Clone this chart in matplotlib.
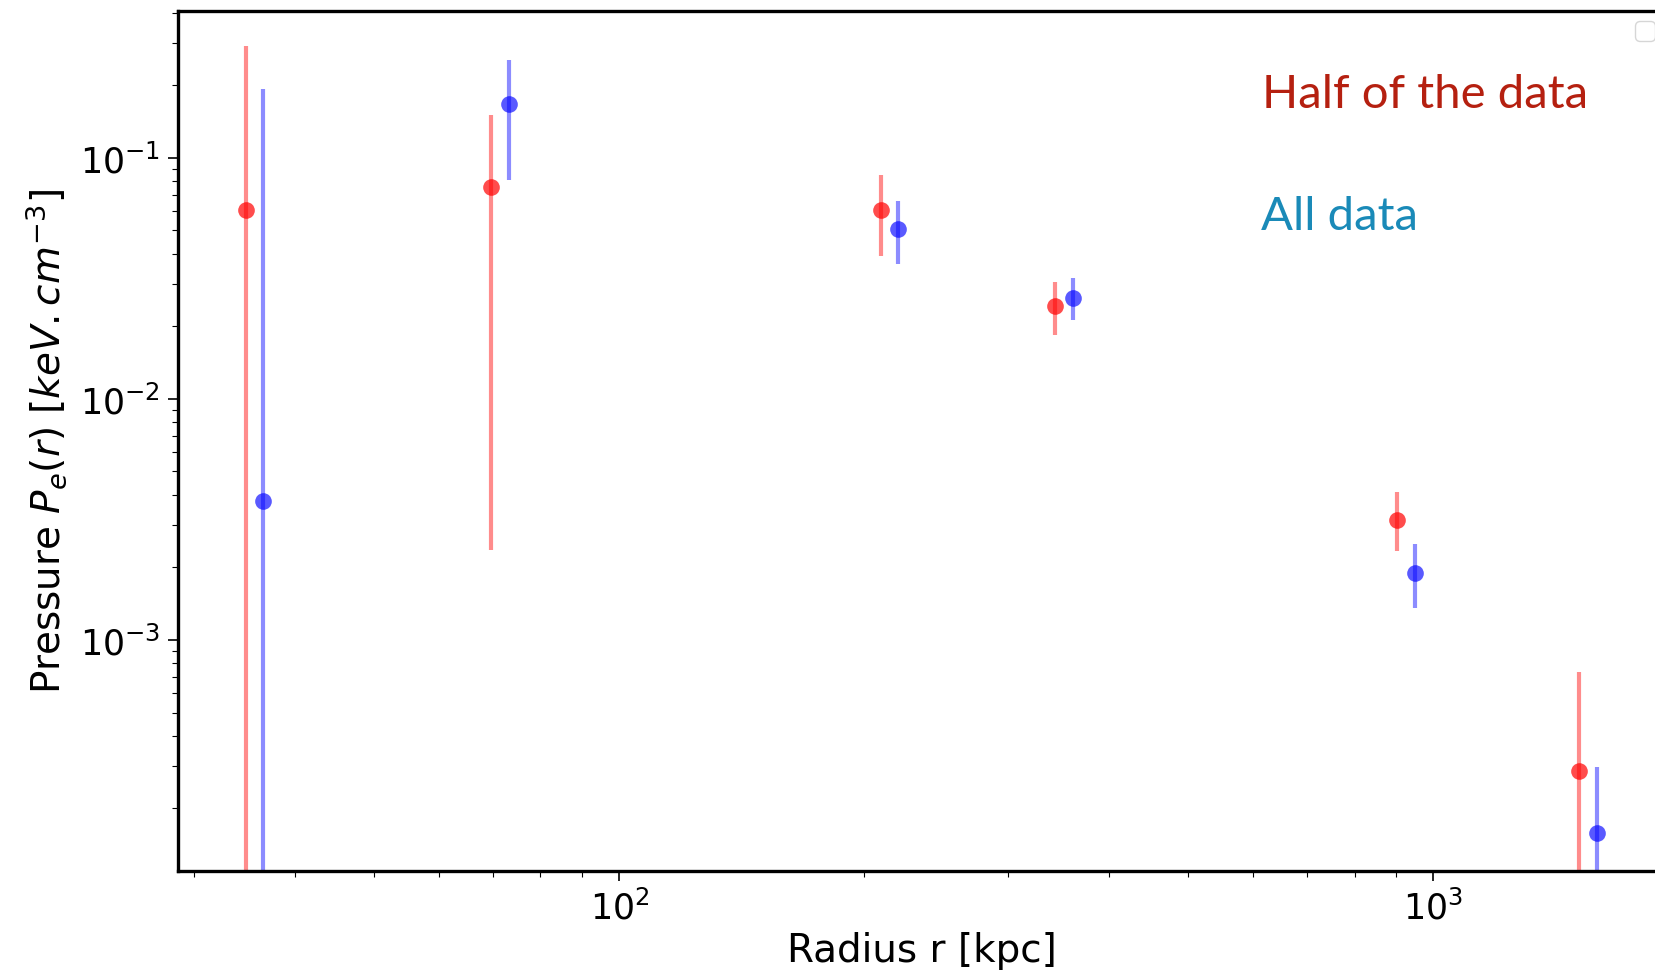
import matplotlib
matplotlib.use("Agg")
import matplotlib.pyplot as plt
import numpy as np

# radial bins [kpc]
r_half = [34.8, 69.5, 209.6, 342.6, 903.0, 1511.0]
r_all = [36.5, 73.1, 219.9, 360.5, 950.0, 1589.0]

# electron pressure [keV cm^-3] with lower / upper bounds
p_half = [0.0608, 0.0758, 0.0608, 0.0243, 0.00315, 0.000286]
p_half_lo = [1e-6, 0.00236, 0.0392, 0.01845, 0.00234, 1e-6]
p_half_hi = [0.290, 0.151, 0.085, 0.0305, 0.00411, 0.000736]

p_all = [0.00378, 0.168, 0.0507, 0.0262, 0.00189, 0.000158]
p_all_lo = [1e-6, 0.081, 0.0363, 0.0213, 0.00136, 1e-6]
p_all_hi = [0.193, 0.255, 0.0664, 0.0318, 0.0025, 0.000297]


def asym_err(val, lo, hi):
    val, lo, hi = np.array(val), np.array(lo), np.array(hi)
    return [val - lo, hi - val]


fig = plt.figure(figsize=(16.56, 9.78), dpi=100)
ax = fig.add_axes([178 / 1656, 1 - 872 / 978, (1665 - 178) / 1656, (872 - 12) / 978])

ax.errorbar(r_half, p_half, yerr=asym_err(p_half, p_half_lo, p_half_hi),
            fmt="none", ecolor="r", elinewidth=3, alpha=0.45)
ax.plot(r_half, p_half, "o", color="r", ms=12, alpha=0.7, mec="none")

ax.errorbar(r_all, p_all, yerr=asym_err(p_all, p_all_lo, p_all_hi),
            fmt="none", ecolor="b", elinewidth=3, alpha=0.45)
ax.plot(r_all, p_all, "o", color="b", ms=12, alpha=0.65, mec="none")

ax.set_xscale("log")
ax.set_yscale("log")
ax.set_xlim(28.7, 1925)
ax.set_ylim(1.10e-4, 0.407)

for s in ax.spines.values():
    s.set_linewidth(2.4)
ax.tick_params(which="major", length=7, width=1.2, labelsize=25, pad=6)
ax.tick_params(which="minor", length=4, width=0.8)

ax.set_xlabel("Radius r [kpc]", fontsize=28, labelpad=4)
ax.set_ylabel(r"Pressure $P_e(r)$ [$keV.cm^{-3}$]", fontsize=28, labelpad=8)

# empty legend frame
ax.legend(handles=[], labels=[], loc="upper right", borderaxespad=0.4,
          fontsize=18, framealpha=0.8, edgecolor="#cccccc")

fig.text(1262 / 1656, 1 - 108 / 978, "Half of the data", color="#b52010",
         fontsize=34, family="Lato", va="baseline")
fig.text(1261 / 1656, 1 - 230 / 978, "All data", color="#1a8ab8",
         fontsize=34, family="Lato", va="baseline")

fig.savefig("out.png", dpi=100)
